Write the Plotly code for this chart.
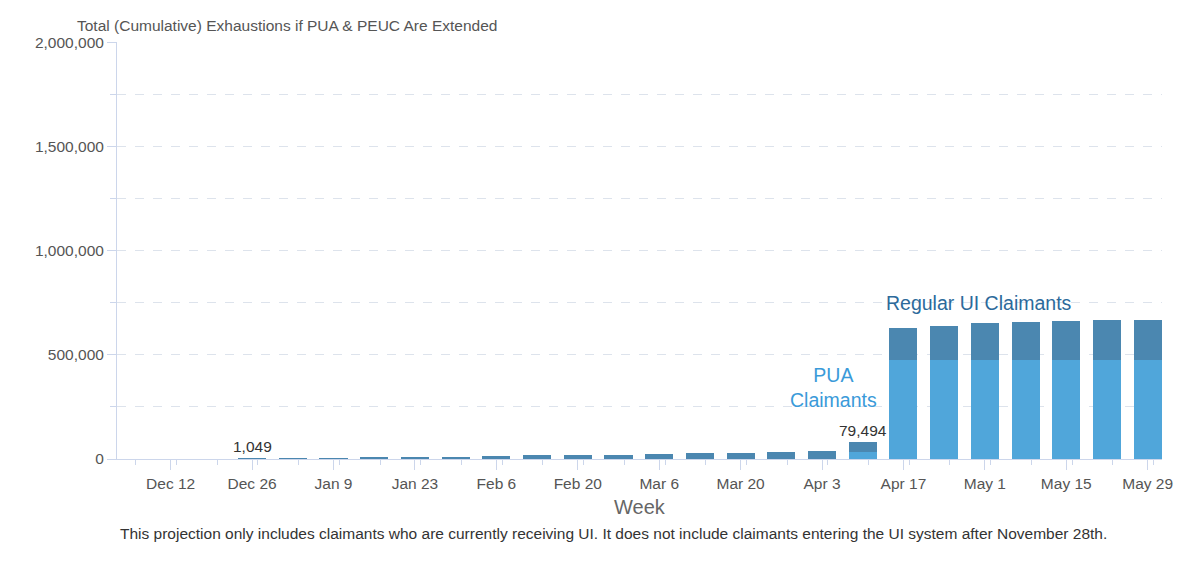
import plotly.graph_objects as go

# weekly projection, Dec 2020 - May 2021
weeks = ["2020-12-05", "2020-12-12", "2020-12-19", "2020-12-26", "2021-01-02",
         "2021-01-09", "2021-01-16", "2021-01-23", "2021-01-30", "2021-02-06",
         "2021-02-13", "2021-02-20", "2021-02-27", "2021-03-06", "2021-03-13",
         "2021-03-20", "2021-03-27", "2021-04-03", "2021-04-10", "2021-04-17",
         "2021-04-24", "2021-05-01", "2021-05-08", "2021-05-15", "2021-05-22",
         "2021-05-29"]

pua = [0, 0, 0, 0, 0,
       0, 0, 0, 0, 0,
       0, 0, 0, 0, 0,
       0, 0, 0, 33000, 474000,
       474000, 474000, 474000, 474000, 474000,
       474000]

regular = [0, 0, 0, 1049, 1049,
           1049, 6000, 10000, 11500, 15500,
           17000, 19500, 21500, 24000, 27000,
           30000, 32500, 40000, 46494, 157000,
           165000, 177000, 186000, 189000, 192000,
           195000]

# weeks that carry a total label
labeled_weeks = ["2020-12-26", "2021-04-10"]

totals = [p + r for p, r in zip(pua, regular)]

dark = "#4b87b0"
light = "#50a6da"
week_ms = 7 * 24 * 3600 * 1000
bar_w = 0.69 * week_ms

fig = go.Figure()
fig.add_trace(go.Bar(x=weeks, y=pua, name="PUA Claimants", marker_color=light,
                     marker_line_width=0, width=bar_w))
fig.add_trace(go.Bar(x=weeks, y=regular, name="Regular UI Claimants", marker_color=dark,
                     marker_line_width=0, width=bar_w))

for w, t in zip(weeks, totals):
    if w in labeled_weeks:
        fig.add_annotation(x=w, y=t, text=f"{t:,}", showarrow=False, yanchor="middle",
                           yshift=12, font=dict(size=15.5, color="#333333"))

fig.add_annotation(x="2021-04-30", y=747000, text="Regular UI Claimants", showarrow=False,
                   yanchor="middle", font=dict(size=19.5, color="#2c6a9b"))
fig.add_annotation(x="2021-04-05", y=342000, text="PUA<br>Claimants", showarrow=False,
                   yanchor="middle", font=dict(size=19.5, color="#3a9ad9"))

fig.add_annotation(xref="paper", yref="paper", x=0, xshift=-42, y=1.0, yshift=17,
                   text="Total (Cumulative) Exhaustions if PUA & PEUC Are Extended",
                   showarrow=False, xanchor="left", yanchor="middle",
                   font=dict(size=15.5, color="#555555"))
fig.add_annotation(xref="paper", yref="paper", x=0.5, y=0, yshift=-48,
                   text="Week", showarrow=False, xanchor="center", yanchor="middle",
                   font=dict(size=20, color="#666666"))
fig.add_annotation(xref="paper", yref="paper", x=0.5, xshift=-26, y=0, yshift=-74,
                   text="This projection only includes claimants who are currently receiving UI. "
                        "It does not include claimants entering the UI system after November 28th.",
                   showarrow=False, xanchor="center", yanchor="middle",
                   font=dict(size=15.5, color="#333333"))

# page body has an 8px margin, so the figure is sized to fit inside the window
fig.update_layout(
    barmode="stack",
    width=1184, height=548,
    margin=dict(l=109, r=30, t=34, b=97),
    plot_bgcolor="white", paper_bgcolor="white",
    showlegend=False,
    font=dict(family="Liberation Sans, Arial, sans-serif", size=15.5, color="#666666"),
    xaxis=dict(
        type="date",
        range=["2020-12-02 18:30", "2021-05-31 11:00"],
        tick0="2020-12-12", dtick=2 * week_ms,
        tickformat="%b %-d",
        ticks="outside", ticklen=10, tickcolor="#ccd6eb",
        minor=dict(dtick=week_ms, ticks="outside", ticklen=5, tickcolor="#ccd6eb"),
        showline=True, linecolor="#ccd6eb", linewidth=1,
        showgrid=False,
        tickfont=dict(size=15.5, color="#555555"),
    ),
    yaxis=dict(
        range=[0, 2002000],
        tickvals=[0, 500000, 1000000, 1500000, 2000000],
        tickformat=",",
        ticks="outside", ticklen=9, tickcolor="#ccd6eb",
        showline=True, linecolor="#ccd6eb", linewidth=1,
        gridcolor="#dde3ec", griddash="dash",
        minor=dict(dtick=250000, ticks="outside", ticklen=6, tickcolor="#ccd6eb",
                   showgrid=True, gridcolor="#dde3ec", griddash="dash"),
        zeroline=False,
        tickfont=dict(size=15.5, color="#555555"),
    ),
)

fig.write_html("out.html")
